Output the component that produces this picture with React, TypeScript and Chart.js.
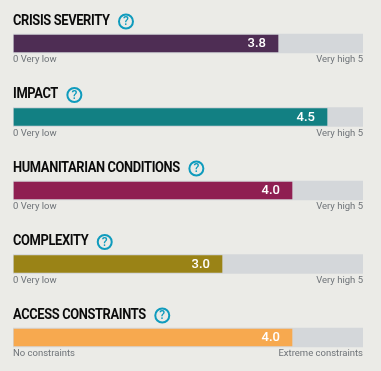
import React, { useEffect, useRef } from "react";
import { Chart, registerables } from "chart.js";

Chart.register(...registerables);

const categories = ["CRISIS SEVERITY", "IMPACT", "HUMANITARIAN CONDITIONS", "COMPLEXITY", "ACCESS CONSTRAINTS"];
const scores = [3.8, 4.5, 4.0, 3.0, 4.0];
const trackValues = [5, 5, 5, 5, 5];
const barColors = ["#4e2d54", "#128083", "#8f1f52", "#9a8316", "#f7a94f"];
const lowLabels = ["0 Very low", "0 Very low", "0 Very low", "0 Very low", "No constraints"];
const highLabels = ["Very high 5", "Very high 5", "Very high 5", "Very high 5", "Extreme constraints"];

const TRACK = "#d4d7da";
const FONT = "Roboto, sans-serif";
const TITLE_SQUEEZE = 0.92;

const textPlugin = {
  id: "cardText",
  afterDatasetsDraw(chart: any) {
    const { ctx, scales } = chart;
    const x0 = scales.x.getPixelForValue(0);
    const x5 = scales.x.getPixelForValue(5);
    categories.forEach((name, i) => {
      const yc = scales.y.getPixelForValue(i);
      ctx.save();
      ctx.textBaseline = "middle";

      // title
      ctx.save();
      ctx.font = `700 14px ${FONT}`;
      ctx.fillStyle = "#0b0b0b";
      ctx.textAlign = "left";
      (ctx as any).letterSpacing = "-0.4px";
      ctx.translate(x0, yc - 22.5);
      ctx.scale(TITLE_SQUEEZE, 1);
      ctx.fillText(name, 0, 0);
      const w = ctx.measureText(name).width * TITLE_SQUEEZE;
      ctx.restore();

      // help icon
      const cx = x0 + w + 16.5;
      const cy = yc - 22;
      ctx.beginPath();
      ctx.arc(cx, cy, 7, 0, Math.PI * 2);
      ctx.strokeStyle = "#0f9bbd";
      ctx.lineWidth = 2;
      ctx.stroke();
      ctx.font = `500 12px ${FONT}`;
      ctx.fillStyle = "#0f9bbd";
      ctx.textAlign = "center";
      ctx.fillText("?", cx, cy + 0.5);

      // score
      ctx.font = `500 13px ${FONT}`;
      ctx.fillStyle = "#ffffff";
      ctx.textAlign = "right";
      ctx.fillText(scores[i].toFixed(1), scales.x.getPixelForValue(scores[i]) - 13, yc + 0.5);

      // scale ends
      ctx.font = `400 9.5px ${FONT}`;
      ctx.fillStyle = "#6e7378";
      ctx.textAlign = "left";
      ctx.fillText(lowLabels[i], x0, yc + 16.5);
      ctx.textAlign = "right";
      ctx.fillText(highLabels[i], x5, yc + 16.5);
      ctx.restore();
    });
  },
};

export default function App() {
  const ref = useRef<HTMLCanvasElement>(null);
  useEffect(() => {
    document.body.style.margin = "0";
    document.body.style.background = "#ebebe7";
    const chart = new Chart(ref.current!, {
      type: "bar",
      data: {
        labels: categories,
        datasets: [
          {
            data: scores,
            backgroundColor: barColors,
            borderColor: TRACK,
            borderWidth: 1,
            borderSkipped: false,
            barThickness: 19,
            grouped: false,
            order: 1,
          },
          {
            data: trackValues,
            backgroundColor: TRACK,
            borderWidth: 0,
            barThickness: 19,
            grouped: false,
            order: 2,
          },
        ],
      },
      options: {
        indexAxis: "y",
        animation: false,
        responsive: false,
        events: [],
        layout: { padding: { left: 13, right: 18, top: 6.75, bottom: 0.75 } },
        plugins: { legend: { display: false }, tooltip: { enabled: false }, title: { display: false } },
        scales: {
          x: { min: 0, max: 5, display: false },
          y: { display: false },
        },
      },
      plugins: [textPlugin],
    } as any);
    return () => chart.destroy();
  }, []);
  return (
    <div style={{ width: 381, height: 371, background: "#ebebe7", overflow: "hidden" }}>
      <canvas ref={ref} width={381} height={375} style={{ display: "block" }} />
    </div>
  );
}
